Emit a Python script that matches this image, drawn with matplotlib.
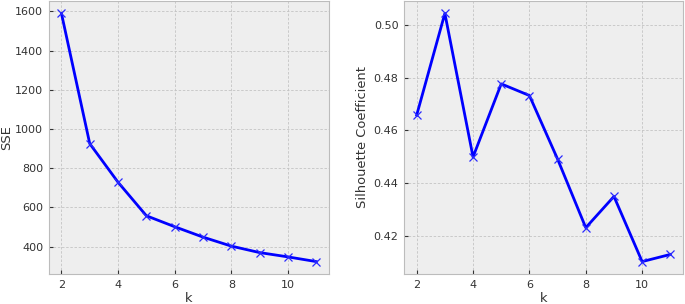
import matplotlib
matplotlib.use("Agg")
import matplotlib.pyplot as plt

k_values = [2, 3, 4, 5, 6, 7, 8, 9, 10, 11]
sse = [1590, 925, 728, 557, 501, 448, 402, 369, 347, 323]
silhouette = [0.4658, 0.5042, 0.4500, 0.4776, 0.4732, 0.4492, 0.4233, 0.4351, 0.4105, 0.4132]

plt.style.use("bmh")
plt.rcParams['font.family'] = ['DejaVu Sans']

fig = plt.figure(figsize=(6.85, 3.04), dpi=100)
W, H = 685, 304
ax1 = fig.add_axes([48.7 / W, 1 - 274 / H, (329 - 48.7) / W, 273 / H])
ax2 = fig.add_axes([404 / W, 1 - 274 / H, (683 - 404) / W, 273 / H])

for ax, vals, lab, pad in [(ax1, sse, 'SSE', 1.5), (ax2, silhouette, 'Silhouette Coefficient', 3)]:
    ax.plot(k_values, vals, color='blue', marker='x', markersize=6,
            markeredgewidth=0.9, markeredgecolor='#2a2aff', linewidth=2)
    ax.set_xlabel('k', fontsize=9.4, color='#333333', labelpad=1.5)
    ax.set_ylabel(lab, fontsize=9.4, color='#333333', labelpad=pad)
    ax.tick_params(labelsize=8, colors='#333333', length=3, pad=4)
    ax.grid(True, color='#c4c4c4', linestyle=(0, (3, 2)), linewidth=0.6)
    ax.set_xticks([2, 4, 6, 8, 10])

fig.savefig('out.png', dpi=100)
